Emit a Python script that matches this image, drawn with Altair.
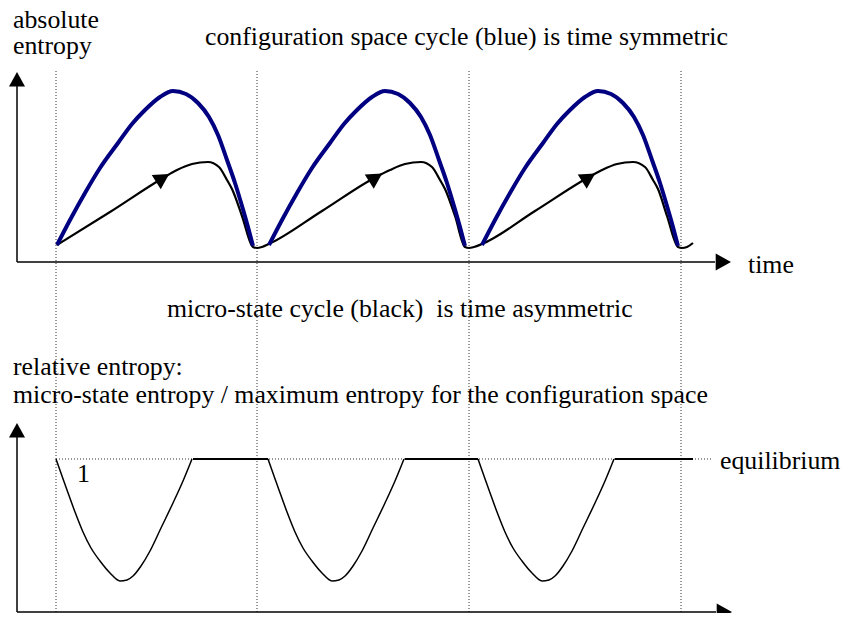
import altair as alt
import pandas as pd

# ---- values (plot units: x = time position, y = drawing height, downwards) ----
# configuration-space cycles (blue), absolute entropy
BLUE_C1_X = [57, 70, 85, 100, 118, 132, 145, 160, 173, 186, 198, 209, 218, 227, 235, 242, 248, 253]
BLUE_C2_X = [269, 282, 297, 312, 330, 344, 357, 372, 385, 398, 410, 421, 430, 439, 447, 454, 460, 465]
BLUE_C3_X = [482, 495, 510, 525, 543, 557, 570, 585, 598, 611, 623, 634, 643, 652, 660, 667, 673, 678]
BLUE_Y = [245, 220, 193, 168, 143, 124, 110, 97, 91, 94, 103, 117, 135, 160, 183, 206, 227, 246]

# micro-state cycle (black), absolute entropy
BLACK_X = [57, 110, 163, 177, 192, 208, 219, 227, 232, 242, 253, 257, 262,
           269, 322, 376, 390, 405, 421, 432, 440, 445, 455, 465, 469, 474,
           482, 535, 589, 602, 617, 633, 645, 653, 658, 667, 678, 682, 687, 693]
BLACK_Y = [245, 212, 178, 170, 164, 162, 167, 180, 189, 216, 247, 248, 247,
           244, 211, 177, 170, 164, 162, 167, 180, 189, 216, 247, 248, 247,
           244, 211, 177, 170, 164, 162, 167, 180, 189, 216, 247, 248, 247, 243]

# relative entropy dips (bottom panel)
REL_C1_X = [56, 62, 67, 75, 83, 91, 100, 110, 120, 127, 133, 141, 150, 161, 173, 183, 192]
REL_C2_X = [268, 274, 279, 287, 295, 303, 312, 322, 332, 339, 345, 353, 362, 373, 385, 395, 404]
REL_C3_X = [478, 484, 489, 497, 505, 513, 522, 532, 542, 549, 555, 563, 572, 583, 595, 605, 614]
REL_Y = [459, 476, 490, 512, 532, 548, 561, 573, 581, 580, 576, 566, 551, 528, 503, 481, 459]
EQ_LEVEL = 459
FLAT_START = [193, 405, 615]
FLAT_END = [268, 478, 693]

CYCLE_BOUNDS = [56, 257, 469, 681]

# axes (origin, end of shaft, arrow)
AXIS_X1 = [17, 17, 17, 17]
AXIS_Y1 = [262, 262, 612, 612]
AXIS_X2 = [715, 17, 716, 17]
AXIS_Y2 = [262, 84, 612, 435]
ARROW_X = [722.5, 17, 723.5, 17, 162, 375, 588]
ARROW_Y = [262, 80, 612, 431, 178.5, 178, 178]
ARROW_ANGLE = [0, 270, 0, 270, 328, 328, 328]
ARROW_SIZE = [289, 256, 289, 256, 289, 289, 289]

LABELS = ["absolute", "entropy",
          "configuration space cycle (blue) is time symmetric",
          "time",
          "micro-state cycle (black)\u00a0 is time asymmetric",
          "relative entropy:",
          "micro-state entropy / maximum entropy for the configuration space",
          "1", "equilibrium"]
LABEL_X = [13, 13, 205, 748, 167, 13, 13, 77, 720]
LABEL_Y = [28, 54, 45, 273, 317, 375, 403, 482, 469]

# ---- build tables ----
blue = pd.DataFrame({
    "t": BLUE_C1_X + BLUE_C2_X + BLUE_C3_X,
    "s": BLUE_Y * 3,
    "cycle": [1] * len(BLUE_Y) + [2] * len(BLUE_Y) + [3] * len(BLUE_Y),
})
black = pd.DataFrame({"t": BLACK_X, "s": BLACK_Y})
rel = pd.DataFrame({
    "t": REL_C1_X + REL_C2_X + REL_C3_X,
    "s": REL_Y * 3,
    "cycle": [1] * len(REL_Y) + [2] * len(REL_Y) + [3] * len(REL_Y),
})
flats = pd.DataFrame({"t": FLAT_START, "t2": FLAT_END, "s": [EQ_LEVEL] * 3})
bounds = pd.DataFrame({"t": CYCLE_BOUNDS, "s": [71] * 4, "s2": [613] * 4})
eq = pd.DataFrame({"t": [56], "t2": [712], "s": [EQ_LEVEL]})
axes = pd.DataFrame({"t": AXIS_X1, "s": AXIS_Y1, "t2": AXIS_X2, "s2": AXIS_Y2})
arrows = pd.DataFrame({"t": ARROW_X, "s": ARROW_Y, "angle": ARROW_ANGLE, "size": ARROW_SIZE})
labels = pd.DataFrame({"label": LABELS, "t": LABEL_X, "s": LABEL_Y})

xs = alt.Scale(domain=[8, 841])
ys = alt.Scale(domain=[8, 613], reverse=True)
X = alt.X("t:Q", scale=xs, axis=None)
Y = alt.Y("s:Q", scale=ys, axis=None)

FONT = "Liberation Serif"
FS = 25.8

dotted_v = alt.Chart(bounds).mark_rule(color="#333", strokeWidth=1, strokeDash=[1, 2]).encode(
    x=X, y=Y, y2="s2:Q")
dotted_h = alt.Chart(eq).mark_rule(color="#333", strokeWidth=1, strokeDash=[1, 2]).encode(
    x=X, x2="t2:Q", y=Y)
axis_lines = alt.Chart(axes).mark_rule(color="black", strokeWidth=1.5).encode(
    x=X, y=Y, x2="t2:Q", y2="s2:Q")
black_line = alt.Chart(black).mark_line(color="black", strokeWidth=2.2, interpolate="monotone").encode(
    x=X, y=Y)
blue_line = alt.Chart(blue).mark_line(color="#000080", strokeWidth=4, interpolate="monotone").encode(
    x=X, y=Y, detail="cycle:N")
rel_line = alt.Chart(rel).mark_line(color="black", strokeWidth=1.5, interpolate="monotone").encode(
    x=X, y=Y, detail="cycle:N")
flat_line = alt.Chart(flats).mark_rule(color="black", strokeWidth=2).encode(
    x=X, x2="t2:Q", y=Y)
arrow_marks = alt.Chart(arrows).mark_point(
    shape="M1,0L-0.8,-1L-0.8,1Z", filled=True, color="black", opacity=1, strokeWidth=0
).encode(x=X, y=Y, angle=alt.Angle("angle:Q", scale=None), size=alt.Size("size:Q", scale=None))
texts = alt.Chart(labels).mark_text(
    align="left", baseline="alphabetic", font=FONT, fontSize=FS, color="black"
).encode(x=X, y=Y, text="label:N")

chart = alt.layer(
    dotted_v, dotted_h, axis_lines, black_line, blue_line, rel_line, flat_line, arrow_marks, texts
).properties(
    width=833, height=605, padding=0, autosize=alt.AutoSizeParams(type="none"), background="white"
).configure_view(stroke=None)

chart.save("out.html", embed_options={"renderer": "svg", "actions": False})
